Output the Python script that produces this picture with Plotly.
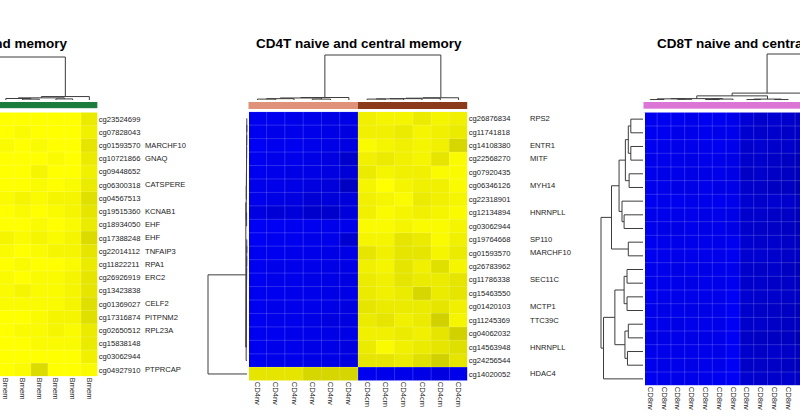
import plotly.graph_objects as go

W, H = 800, 419
FONT = "Liberation Sans, Arial, sans-serif"

# ------------------------------------------------------------------ data
left_title = "B naive and memory"
mid_title = "CD4T naive and central memory"
right_title = "CD8T naive and central memory"

left_cols = [6, 7, 8, 9, 10, 11]
left_col_labels = ["Bmem"] * 6
left_ids = ["cg23524699", "cg07828043", "cg01593570", "cg10721866", "cg09448652",
            "cg06300318", "cg04567513", "cg19515360", "cg18934050", "cg17388248",
            "cg22014112", "cg11822211", "cg26926919", "cg13423838", "cg01369027",
            "cg17316874", "cg02650512", "cg15838148", "cg03062944", "cg04927910"]
left_genes = ["", "", "MARCHF10", "GNAQ", "", "CATSPERE", "", "KCNAB1", "EHF", "EHF",
              "TNFAIP3", "RPA1", "ERC2", "", "CELF2", "PITPNM2", "RPL23A", "", "", "PTPRCAP"]
left_z = [
    [1.0, 1.0, 1.0, 1.0, 1.0, .96],
    [1.0, .99, 1.0, 1.0, 1.0, .97],
    [.99, 1.0, .99, 1.0, 1.0, .95],
    [1.0, 1.0, 1.0, .99, 1.0, .96],
    [1.0, 1.0, .98, 1.0, 1.0, .97],
    [1.0, 1.0, .99, 1.0, .99, .96],
    [.99, .98, .99, .98, .98, .94],
    [1.0, .99, 1.0, .99, .98, .95],
    [1.0, 1.0, .99, 1.0, .99, .96],
    [.98, .99, .98, .99, .98, .93],
    [.99, 1.0, .99, .98, .98, .95],
    [1.0, .99, 1.0, 1.0, .99, .96],
    [.99, 1.0, .99, .99, .98, .95],
    [.99, .98, .99, .99, .98, .95],
    [.99, .99, .99, .99, .98, .94],
    [1.0, 1.0, .99, .98, .98, .94],
    [1.0, .99, .99, .98, .99, .96],
    [1.0, 1.0, .99, .99, .99, .96],
    [1.0, 1.0, 1.0, 1.0, 1.0, .97],
    [1.0, .99, .93, 1.0, 1.0, .99],
]
left_group = [1, 1, 1, 1, 1, 1]
left_group_colors = ["#c9a0dc", "#1c7c3e"]

mid_cols = list(range(12))
mid_col_labels = ["CD4nv"] * 6 + ["CD4cm"] * 6
mid_ids = ["cg26876834", "cg11741818", "cg14108380", "cg22568270", "cg07920435",
           "cg06346126", "cg22318901", "cg12134894", "cg03062944", "cg19764668",
           "cg01593570", "cg26783962", "cg11786338", "cg15463550", "cg01420103",
           "cg11245369", "cg04062032", "cg14563948", "cg24256544", "cg14020052"]
mid_genes = ["RPS2", "", "ENTR1", "MITF", "", "MYH14", "", "HNRNPLL", "", "SP110",
             "MARCHF10", "", "SEC11C", "", "MCTP1", "TTC39C", "", "HNRNPLL", "", "HDAC4"]
mid_z = [
    [.03, .03, .04, .04, .05, .05, .97, .98, .98, .96, .98, .97],
    [.03, .04, .04, .04, .05, .06, .97, .97, .96, .98, .97, .96],
    [.02, .03, .03, .04, .05, .06, .99, .98, .97, .98, .97, .92],
    [.03, .04, .04, .05, .06, .10, .97, .96, .97, .98, .95, .99],
    [.03, .04, .05, .05, .06, .08, .96, .98, .97, .97, .99, .99],
    [.04, .04, .05, .06, .07, .12, .98, 1.0, .98, .97, .97, .99],
    [.04, .05, .06, .08, .07, .07, .97, .98, .99, .96, .97, .98],
    [.06, .08, .07, .10, .10, .07, .97, .99, .98, .97, .98, .99],
    [.02, .02, .03, .03, .04, .04, .99, .99, .98, .99, .99, .98],
    [.02, .03, .03, .04, .04, .09, .98, .98, .95, .96, .99, .97],
    [.03, .03, .04, .04, .05, .05, .95, .97, .95, .95, .98, .96],
    [.03, .04, .04, .04, .05, .05, .97, .98, .95, .97, .94, .98],
    [.03, .04, .04, .05, .05, .06, .96, .97, .95, .96, .96, .95],
    [.03, .03, .04, .04, .05, .05, .96, .97, .96, .92, .96, .95],
    [.03, .04, .04, .04, .05, .06, .95, .96, .96, .96, .95, .97],
    [.03, .04, .04, .05, .06, .06, .96, .95, .97, .96, .91, .98],
    [.03, .03, .04, .04, .05, .05, .97, .97, .96, .97, .95, .91],
    [.03, .04, .04, .05, .05, .06, .96, .99, .97, .96, .95, .94],
    [.03, .04, .04, .05, .05, .06, .95, .95, .96, .94, .91, .95],
    [.95, .95, .95, .92, .92, .92, .03, .04, .04, .05, .06, .04],
]
mid_group = [0] * 6 + [1] * 6
mid_group_colors = ["#e0917a", "#8b3a1c"]

right_cols = list(range(12))
right_col_labels = ["CD8nv"] * 12
right_z = [
    [.03, .03, .03, .04, .03, .03, .04, .08, .10, .09, .10, .12],
    [.03, .03, .04, .04, .03, .04, .04, .09, .10, .10, .11, .12],
    [.03, .04, .04, .04, .04, .03, .04, .10, .09, .10, .10, .13],
    [.04, .04, .04, .05, .04, .04, .05, .10, .10, .11, .12, .14],
    [.04, .05, .04, .05, .05, .04, .05, .11, .10, .11, .12, .14],
    [.04, .04, .05, .05, .04, .05, .05, .10, .11, .12, .12, .15],
    [.03, .04, .03, .04, .04, .03, .04, .09, .10, .09, .10, .13],
    [.04, .04, .04, .04, .05, .04, .05, .10, .10, .11, .11, .14],
    [.04, .05, .05, .04, .05, .04, .05, .10, .11, .11, .12, .14],
    [.03, .04, .04, .04, .04, .04, .03, .09, .10, .10, .11, .13],
    [.03, .04, .04, .04, .04, .04, .03, .09, .09, .10, .11, .12],
    [.04, .04, .05, .04, .05, .04, .04, .10, .11, .10, .12, .14],
    [.04, .04, .04, .05, .04, .04, .03, .10, .10, .11, .11, .13],
    [.03, .04, .04, .04, .04, .04, .02, .09, .10, .10, .11, .12],
    [.04, .05, .04, .05, .05, .04, .02, .10, .11, .11, .12, .14],
    [.04, .04, .05, .04, .04, .04, .02, .10, .10, .11, .12, .13],
    [.05, .05, .04, .05, .05, .04, .02, .11, .12, .12, .12, .15],
    [.04, .04, .04, .04, .04, .04, .02, .10, .11, .10, .11, .13],
    [.04, .05, .04, .05, .04, .04, .02, .11, .11, .11, .12, .14],
    [.03, .04, .04, .04, .04, .03, .02, .09, .10, .10, .10, .12],
]
right_group = [0] * 12
right_group_colors = ["#dc76d6", "#4b0082"]

# dendrogram merges: (child_a, child_b, height); leaves 0..n-1, merge k -> n+k
left_col_tree_n = 12
left_col_tree = [(0, 1, .03), (2, 3, .02), (12, 13, .05), (4, 5, .03), (14, 15, .07),
                 (7, 8, .02), (6, 17, .035), (9, 10, .025), (18, 19, .05), (20, 11, .08),
                 (16, 21, 1.0)]
mid_col_tree_n = 12
mid_col_tree = [(0, 1, .02), (12, 2, .03), (3, 4, .02), (13, 14, .045), (15, 5, .055),
                (6, 7, .02), (17, 8, .025), (18, 9, .03), (19, 10, .04), (20, 11, .05),
                (16, 21, 1.0)]
mid_row_tree_n = 20
mid_row_tree = [(0, 1, .005), (20, 2, .008), (21, 3, .01), (22, 4, .012), (23, 5, .014),
                (24, 6, .016), (7, 8, .01), (25, 26, .02), (9, 10, .006), (28, 11, .008),
                (29, 12, .01), (30, 13, .012), (31, 14, .014), (32, 15, .016), (33, 16, .018),
                (34, 17, .02), (35, 18, .022), (27, 36, .03), (37, 19, 1.0)]
right_col_tree_n = 24
right_col_tree = [(0, 1, .01), (2, 3, .015), (24, 25, .025), (4, 5, .01), (27, 6, .02),
                  (26, 28, .03), (7, 8, .01), (9, 10, .01), (30, 31, .02), (29, 32, .09),
                  (33, 11, .15), (12, 13, .02), (14, 15, .02), (35, 36, .04), (16, 17, .02),
                  (18, 19, .02), (38, 39, .04), (20, 21, .02), (22, 23, .02), (41, 42, .04),
                  (37, 40, .06), (44, 43, .08), (34, 45, 1.0)]
right_row_tree_n = 20
right_row_tree = [(0, 1, .29), (2, 3, .29), (20, 21, .35), (4, 5, .33), (22, 23, .42),
                  (7, 8, .45), (6, 25, .50), (24, 26, .57), (9, 10, .35), (27, 28, .75),
                  (11, 12, .38), (13, 14, .38), (30, 31, .45), (15, 16, .35), (17, 18, .37),
                  (33, 34, .43), (32, 35, .67), (36, 19, .94), (29, 37, 1.0)]

# ------------------------------------------------------------------ helpers
COLORSCALE = [[0, "#0000ff"], [0.5, "#000000"], [1, "#ffff00"]]
DCOL = "#3c3c3c"


def px_x(p):
    return p / W


def px_y(p):
    return 1 - p / H


def dendro(n, merges):
    pos = [float(i) for i in range(n)]
    hgt = [0.0] * n
    P, Q = [], []
    for a, b, h in merges:
        pa, pb, ha, hb = pos[a], pos[b], hgt[a], hgt[b]
        P += [pa, pa, pb, pb, None]
        Q += [ha, h, h, hb, None]
        pos.append((pa + pb) / 2)
        hgt.append(h)
    return P, Q


def grid(cols, nrows):
    xs, ys = [], []
    c0, c1 = cols[0] - 0.5, cols[-1] + 0.5
    for k in range(len(cols) + 1):
        x = c0 + k
        xs += [x, x, None]
        ys += [-0.5, nrows - 0.5, None]
    for r in range(nrows + 1):
        y = r - 0.5
        xs += [c0, c1, None]
        ys += [y, y, None]
    return xs, ys


fig = go.Figure()
layout = dict(width=W, height=H, margin=dict(l=0, r=0, t=0, b=0),
              paper_bgcolor="white", plot_bgcolor="white", showlegend=False,
              font=dict(family=FONT, color="#222"))
annotations = []

hidden = dict(showgrid=False, zeroline=False, showline=False, showticklabels=False,
              ticks="", fixedrange=True)


def axname(i, a):
    return f"{a}axis" if i == 1 else f"{a}axis{i}"


def ref(i, a):
    return a if i == 1 else f"{a}{i}"


def panel(base, cols, col_labels, z, ids, genes, group, gcolors,
          heat_px, xrange_, bar_px, cdend_px, ctree, rdend_px=None, rtree=None,
          gene_shift=46):
    nrows = len(z)
    hx0, hx1, hy0, hy1 = heat_px
    xdom = [max(0, px_x(hx0)), min(1, px_x(hx1))]
    ydom = [px_y(hy1), px_y(hy0)]
    yr = [nrows - 0.5, -0.5]
    # heatmap
    i = base
    fig.add_trace(go.Heatmap(z=z, x=cols, y=list(range(nrows)), colorscale=COLORSCALE,
                             zmin=0, zmax=1, showscale=False, xaxis=ref(i, "x"),
                             yaxis=ref(i, "y"), hoverinfo="skip"))
    gx, gy = grid(cols, nrows)
    fig.add_trace(go.Scatter(x=gx, y=gy, mode="lines", xaxis=ref(i, "x"), yaxis=ref(i, "y"),
                             line=dict(color="rgba(255,255,255,0.22)", width=0.8),
                             hoverinfo="skip"))
    layout[axname(i, "x")] = dict(hidden, domain=xdom, range=xrange_, anchor=ref(i, "y"),
                                  showticklabels=True, tickmode="array", tickvals=cols,
                                  ticktext=col_labels, tickangle=90, side="bottom",
                                  tickfont=dict(size=7.6, color="#222"))
    ykw = dict(hidden, domain=ydom, range=yr, anchor=ref(i, "x"))
    if ids:
        ykw.update(showticklabels=True, side="right", tickmode="array",
                   tickvals=list(range(nrows)), ticktext=ids,
                   tickfont=dict(size=7.6, color="#222"))
        for r, g in enumerate(genes):
            if g:
                annotations.append(dict(text=g, xref=f"{ref(i, 'x')} domain", x=1,
                                        xanchor="left", xshift=gene_shift, yref=ref(i, "y"),
                                        y=r, showarrow=False,
                                        font=dict(size=7.6, color="#222")))
    layout[axname(i, "y")] = ykw
    # annotation bar
    i = base + 1
    fig.add_trace(go.Heatmap(z=[group], x=cols, y=[0],
                             colorscale=[[0, gcolors[0]], [0.5, gcolors[0]],
                                         [0.5, gcolors[1]], [1, gcolors[1]]],
                             zmin=0, zmax=1, showscale=False, xaxis=ref(i, "x"),
                             yaxis=ref(i, "y"), hoverinfo="skip"))
    layout[axname(i, "x")] = dict(hidden, domain=xdom, range=xrange_, anchor=ref(i, "y"))
    layout[axname(i, "y")] = dict(hidden, domain=[px_y(bar_px[1]), px_y(bar_px[0])],
                                  range=[-0.5, 0.5], anchor=ref(i, "x"))
    # column dendrogram
    i = base + 2
    n, merges = ctree
    P, Q = dendro(n, merges)
    fig.add_trace(go.Scatter(x=P, y=Q, mode="lines", line=dict(color=DCOL, width=1),
                             xaxis=ref(i, "x"), yaxis=ref(i, "y"), hoverinfo="skip"))
    top, bot = cdend_px
    pad = 2.0
    span = bot - top
    layout[axname(i, "x")] = dict(hidden, domain=xdom, range=xrange_, anchor=ref(i, "y"))
    layout[axname(i, "y")] = dict(hidden, domain=[px_y(bot + pad), px_y(top - pad)],
                                  range=[-pad / span, 1 + pad / span], anchor=ref(i, "x"))
    # row dendrogram
    if rtree:
        i = base + 3
        n, merges = rtree
        P, Q = dendro(n, merges)
        fig.add_trace(go.Scatter(x=Q, y=P, mode="lines", line=dict(color=DCOL, width=1),
                                 xaxis=ref(i, "x"), yaxis=ref(i, "y"), hoverinfo="skip"))
        left, right = rdend_px
        span = right - left
        layout[axname(i, "x")] = dict(hidden, domain=[px_x(left - pad), px_x(right + pad)],
                                      range=[1 + pad / span, -pad / span], anchor=ref(i, "y"))
        layout[axname(i, "y")] = dict(hidden, domain=ydom, range=yr, anchor=ref(i, "x"))


# left panel (cut at the figure's left edge)
lw = 16.7
panel(1, left_cols, left_col_labels, left_z, left_ids, left_genes, left_group,
      left_group_colors, heat_px=(0, 97.7, 112.3, 376.6),
      xrange_=[11.5 - 97.7 / lw, 11.5], bar_px=(101.7, 108.3), cdend_px=(57, 100),
      ctree=(left_col_tree_n, left_col_tree), gene_shift=45)

# middle panel
panel(4, mid_cols, mid_col_labels, mid_z, mid_ids, mid_genes, mid_group,
      mid_group_colors, heat_px=(248.3, 467.7, 111.7, 380.7), xrange_=[-0.5, 11.5],
      bar_px=(101, 109.3), cdend_px=(55, 100), ctree=(mid_col_tree_n, mid_col_tree),
      rdend_px=(208, 247), rtree=(mid_row_tree_n, mid_row_tree), gene_shift=60)

# right panel (cut at the figure's right edge)
rw = 13.8
panel(8, right_cols, right_col_labels, right_z, None, None, right_group,
      right_group_colors, heat_px=(643.3, 800, 112.3, 385.7),
      xrange_=[-0.5, -0.5 + (800 - 643.3) / rw], bar_px=(101.7, 109), cdend_px=(54, 100),
      ctree=(right_col_tree_n, right_col_tree), rdend_px=(601, 643),
      rtree=(right_row_tree_n, right_row_tree))

tfont = dict(family=FONT, size=13.5, color="black")
annotations += [
    dict(text=f"<b>{left_title}</b>", xref="paper", yref="paper", x=px_x(69.5), y=px_y(44),
         xanchor="right", yanchor="middle", showarrow=False, font=tfont),
    dict(text=f"<b>{mid_title}</b>", xref="paper", yref="paper", x=px_x(359.2), y=px_y(44),
         xanchor="center", yanchor="middle", showarrow=False, font=tfont),
    dict(text=f"<b>{right_title}</b>", xref="paper", yref="paper", x=px_x(654.5), y=px_y(44),
         xanchor="left", yanchor="middle", showarrow=False, font=tfont),
]
layout["annotations"] = annotations
fig.update_layout(**layout)
fig.write_html("out.html", config={"displayModeBar": False},
               post_script="document.body.style.margin='0';document.body.style.overflow='hidden';")
